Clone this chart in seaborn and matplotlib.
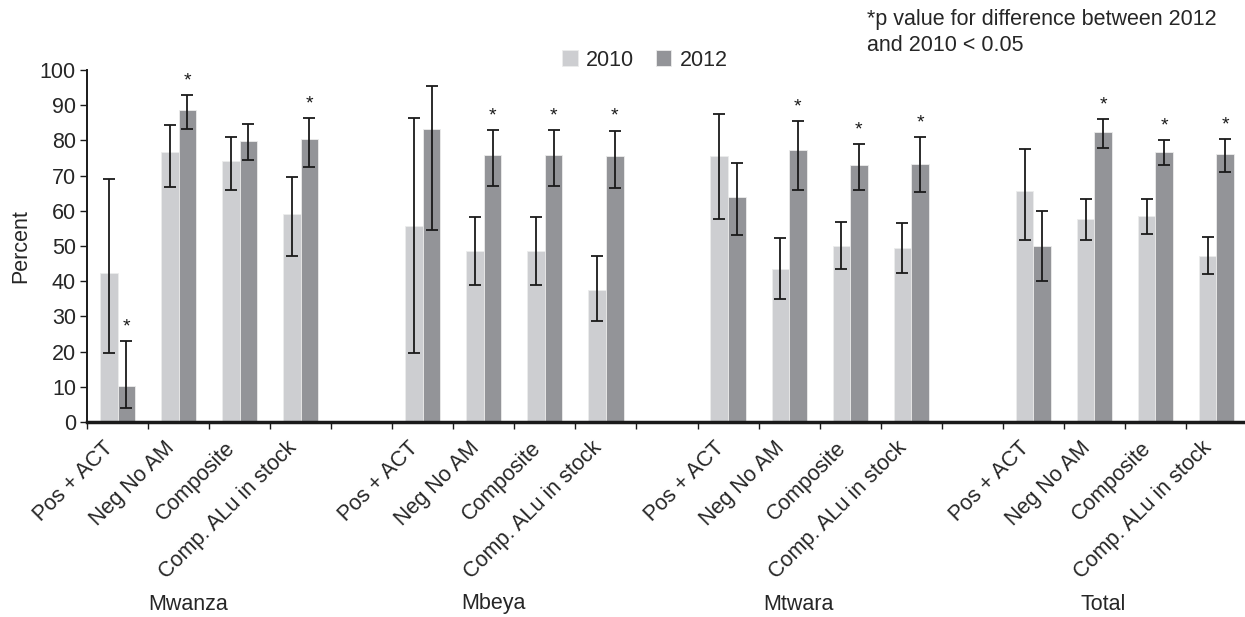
import numpy as np
import pandas as pd
import seaborn as sns
import matplotlib.pyplot as plt
import matplotlib.transforms as mtransforms

# Data (percent, with lower/upper CI)
regions = ["Mwanza", "Mbeya", "Mtwara", "Total"]
indicators = ["Pos + ACT", "Neg No AM", "Composite", "Comp. ALu in stock"]
years = ["2010", "2012"]

pct_2010 = [42.4, 76.6, 74.1, 59.0, 55.6, 48.5, 48.5, 37.5, 75.6, 43.4, 50.1, 49.5, 65.7, 57.7, 58.5, 47.2]
lo_2010 = [19.7, 66.7, 65.9, 47.3, 19.6, 39.0, 39.0, 28.7, 57.8, 34.9, 43.5, 42.3, 51.6, 51.8, 53.5, 42.0]
hi_2010 = [69.0, 84.3, 81.1, 69.7, 86.4, 58.2, 58.2, 47.2, 87.6, 52.2, 56.8, 56.6, 77.5, 63.4, 63.4, 52.6]
pct_2012 = [10.2, 88.7, 79.9, 80.3, 83.1, 75.9, 75.9, 75.5, 64.0, 77.3, 72.9, 73.3, 50.1, 82.3, 76.7, 76.2]
lo_2012 = [4.1, 83.1, 74.5, 72.4, 54.6, 67.1, 67.1, 66.6, 53.0, 66.0, 66.0, 65.3, 40.1, 77.8, 73.0, 71.0]
hi_2012 = [23.1, 92.8, 84.6, 86.3, 95.5, 83.0, 83.0, 82.8, 73.7, 85.6, 79.0, 80.9, 60.0, 86.1, 80.1, 80.5]
signif = [1, 1, 0, 1, 0, 1, 1, 1, 0, 1, 1, 1, 0, 1, 1, 1]

sns.set_theme(style="white")
plt.rcParams["font.family"] = ["Liberation Sans", "DejaVu Sans"]
FS = 15.5

#Building long table, one slot per region/indicator plus an empty gap slot
rows = []
order = []
for r, reg in enumerate(regions):
    for i, ind in enumerate(indicators):
        k = r * 4 + i
        slot = reg + "|" + ind
        order.append(slot)
        rows.append({"slot": slot, "year": "2010", "pct": pct_2010[k]})
        rows.append({"slot": slot, "year": "2012", "pct": pct_2012[k]})
    if r < len(regions) - 1:
        order.append("gap" + str(r))
df = pd.DataFrame(rows)

fig = plt.figure(figsize=(12.45, 6.17), dpi=100)
ax = fig.add_axes([87 / 1245, 1 - 422 / 617, 1160 / 1245, 352 / 617])

sns.barplot(data=df, x="slot", y="pct", hue="year", order=order, hue_order=years,
            palette=["#cdced1", "#939498"], saturation=1, width=0.575, gap=0,
            errorbar=None, edgecolor="#ececec", linewidth=0.6, ax=ax)

lows = [lo_2010, lo_2012]
highs = [hi_2010, hi_2012]
for p in list(ax.patches):
    w = p.get_width()
    h = p.get_height()
    if w <= 0 or h <= 0:
        continue
    cx = p.get_x() + w / 2
    idx = int(round(cx))
    hue = 0 if cx < idx else 1
    k = (idx // 5) * 4 + idx % 5
    lo, hi = lows[hue][k], highs[hue][k]
    ax.errorbar(cx, h, yerr=[[h - lo], [hi - h]], fmt="none", ecolor="#1a1a1a",
                elinewidth=1.3, capsize=4, capthick=1.3, zorder=5)
    if hue == 1 and signif[k]:
        ax.text(cx, hi + 4, "*", ha="center", va="center", fontsize=14, color="#1a1a1a")

ax.set_ylim(0, 100)
ax.set_xlim(-0.5, len(order) - 0.5)
ax.set_yticks(range(0, 101, 10))
ax.set_xticks(range(len(order)))
ax.set_xticklabels([s.split("|")[1] if "|" in s else "" for s in order],
                   rotation=45, ha="right", fontsize=FS)
ax.set_xticks(np.arange(-0.5, len(order), 1), minor=True)
ax.tick_params(axis="x", which="major", length=0, pad=11)
ax.tick_params(axis="x", which="minor", length=5, width=1, color="#1a1a1a", direction="out", bottom=True)
ax.tick_params(axis="y", length=5, width=1, color="#1a1a1a", direction="out", left=True, labelsize=FS, pad=3)
ax.set_xlabel("")
ax.set_ylabel("Percent", fontsize=FS, labelpad=6)
sns.despine(ax=ax)
ax.spines["left"].set_linewidth(1.4)
ax.spines["left"].set_color("#1a1a1a")
ax.spines["bottom"].set_linewidth(2.5)
ax.spines["bottom"].set_color("#1a1a1a")

# Region names under each group
trans = mtransforms.blended_transform_factory(ax.transData, fig.transFigure)
for r, reg in enumerate(regions):
    ax.text(r * 5 + 1.5 - 0.35, 1 - 604 / 617, reg, transform=trans,
            ha="center", va="center", fontsize=FS)

handles, labels = ax.get_legend_handles_labels()
ax.legend(handles, labels, ncol=2, loc="center", bbox_to_anchor=(645 / 1245, 1 - 60 / 617),
          bbox_transform=fig.transFigure, frameon=False, handlelength=0.7, handleheight=0.7,
          columnspacing=1.0, handletextpad=0.4, fontsize=FS)

fig.text(867 / 1245, 1 - 9 / 617, "*p value for difference between 2012\nand 2010 < 0.05",
         ha="left", va="top", fontsize=FS, linespacing=1.3)

fig.savefig("out.png", dpi=100)
